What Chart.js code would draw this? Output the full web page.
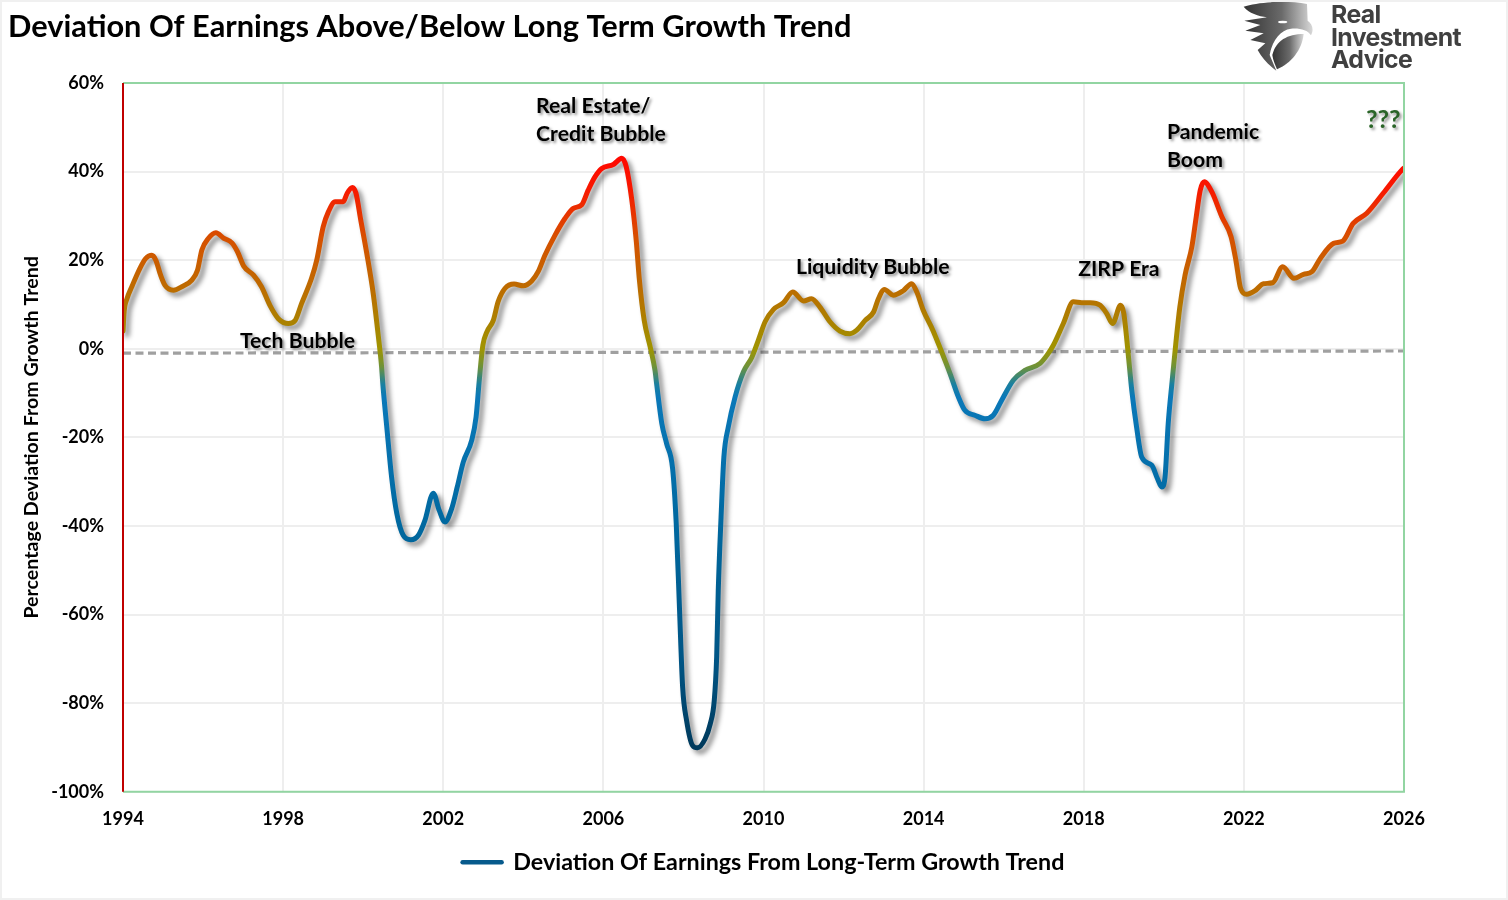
<!DOCTYPE html>
<html><head><meta charset="utf-8">
<script src="https://cdn.jsdelivr.net/npm/chart.js@4"></script>
<style>
html,body{margin:0;padding:0;background:#fff;width:1508px;height:900px;overflow:hidden}
#frame{position:absolute;left:0;top:0;width:1504px;height:896px;border:2px solid #f0f0f0;pointer-events:none}
#c{position:absolute;left:0;top:0}
#logo{position:absolute;left:1243px;top:0}
#logotext{position:absolute;left:1331px;top:3px;font:700 24.8px/22.5px Inter,sans-serif;color:#404040;letter-spacing:-.6px}
</style></head><body>
<canvas id="c" width="1508" height="900"></canvas>
<svg id="logo" width="72" height="73" viewBox="128 0 216 219">
<defs><linearGradient id="g" x1="0" x2="1" y1="0" y2="0"><stop offset="0" stop-color="#333"/><stop offset=".55" stop-color="#6a6a6a"/><stop offset="1" stop-color="#d8d8d8"/></linearGradient></defs>
<path fill="url(#g)" d="M130 20C170 6 260 0 320 12L322 62C335 72 342 86 332 106C322 90 300 84 272 86C240 90 215 122 208 165L228 212C205 195 185 175 172 150L195 130L150 120L190 100L135 92L180 75L132 62L200 52C175 48 145 40 130 20Z"/>
<path fill="url(#g)" d="M216 165C226 122 262 102 310 102C305 150 272 190 230 208C224 194 218 180 216 165Z"/>
<ellipse cx="247" cy="66" rx="14" ry="4" fill="#fff"/>
</svg>
<div id="logotext">Real<br>Investment<br>Advice</div>
<div id="frame"></div>
<script>
const chartTitle = "Deviation Of Earnings Above/Below Long Term Growth Trend";
const yAxisTitle = "Percentage Deviation From Growth Trend";
const seriesName = "Deviation Of Earnings From Long-Term Growth Trend";
const years = [1994.0,1994.03,1994.1,1994.22,1994.42,1994.57,1994.72,1994.82,1994.94,1995.05,1995.26,1995.47,1995.72,1995.86,1995.97,1996.13,1996.32,1996.51,1996.72,1996.86,1997.02,1997.26,1997.46,1997.67,1997.88,1998.13,1998.30,1998.46,1998.71,1998.84,1999.0,1999.13,1999.30,1999.50,1999.60,1999.73,1999.82,1999.94,2000.09,2000.25,2000.38,2000.46,2000.49,2000.59,2000.71,2000.84,2001.0,2001.19,2001.38,2001.54,2001.75,2001.90,2002.04,2002.21,2002.35,2002.50,2002.71,2002.82,2002.90,2002.99,2003.09,2003.25,2003.37,2003.54,2003.77,2004.0,2004.21,2004.37,2004.54,2004.79,2005.04,2005.25,2005.46,2005.62,2005.79,2005.96,2006.25,2006.46,2006.57,2006.71,2006.82,2006.90,2007.02,2007.17,2007.29,2007.33,2007.46,2007.58,2007.73,2007.82,2007.90,2007.98,2008.08,2008.23,2008.35,2008.54,2008.67,2008.77,2008.83,2008.87,2008.94,2009.01,2009.12,2009.29,2009.50,2009.71,2009.87,2010.04,2010.25,2010.50,2010.73,2011.0,2011.20,2011.41,2011.66,2011.91,2012.16,2012.33,2012.54,2012.75,2012.87,2013.02,2013.24,2013.49,2013.70,2013.83,2013.99,2014.23,2014.45,2014.66,2014.87,2015.03,2015.28,2015.53,2015.74,2015.95,2016.24,2016.53,2016.91,2017.11,2017.24,2017.49,2017.74,2017.95,2018.16,2018.41,2018.57,2018.72,2018.92,2019.0,2019.11,2019.20,2019.32,2019.45,2019.70,2019.84,2019.95,2020.03,2020.11,2020.21,2020.30,2020.40,2020.53,2020.70,2020.81,2020.91,2021.01,2021.20,2021.45,2021.68,2021.80,2021.92,2022.07,2022.28,2022.49,2022.72,2022.97,2023.25,2023.49,2023.70,2023.91,2024.24,2024.47,2024.73,2025.07,2025.48,2025.96,2026.0];
const deviation = [4,8.5,11.3,14.0,18.1,20.4,21.1,20.0,16.6,14.3,13.2,14.0,15.5,17.7,22.3,24.9,26.2,25.0,23.9,21.9,18.6,16.6,14.0,9.8,6.8,5.7,6.4,10.2,15.9,20.0,27.5,30.9,33.2,33.2,35.1,36.4,35.1,29.0,21.5,12.5,2.7,-4.1,-7.9,-17.7,-29.0,-37.2,-42.1,-43.1,-42.1,-38.8,-32.6,-36.5,-39.1,-36.1,-31.2,-25.6,-20.7,-15.4,-7.1,0.8,3.8,6.4,10.6,13.6,14.6,14.2,15.3,17.4,21.1,25.6,29.4,31.7,32.5,35.8,38.8,40.7,41.6,43.0,41.1,33.6,24.5,15.5,6.4,0.4,-4.9,-7.9,-16.9,-21.4,-27.1,-39.5,-58.3,-76.4,-84.0,-89.6,-90.1,-88.1,-84.7,-79.4,-69.6,-54.6,-38.0,-24.5,-17.7,-10.9,-5.2,-1.9,1.9,6.1,8.9,10.4,12.8,10.8,11.3,9.4,6.1,4.0,3.4,4.2,6.4,8.3,11.3,13.4,12.1,13.1,14.7,12.8,8.7,4.2,-0.7,-5.6,-10.9,-13.9,-15.0,-15.8,-15.0,-11.6,-7.1,-4.9,-3.3,-1.1,0.8,5.7,10.6,10.4,10.4,9.8,8.0,5.7,9.8,8.0,-1.1,-9.4,-17.7,-24.5,-26.3,-29.3,-31.2,-29.0,-16.9,-7.1,1.2,9.4,16.6,23.0,29.8,35.8,37.7,35.4,29.8,25.3,20.0,13.6,12.3,13.1,14.7,14.9,18.5,15.9,16.8,17.4,20.4,23.8,24.3,28.3,30.6,35.1,40.5,40.8];
const zeroYears = [1994, 2026];
const zeroLine = [-1, -0.5];
const noteText = ["Tech Bubble","Real Estate/","Credit Bubble","Liquidity Bubble","ZIRP Era","Pandemic","Boom","???"];
const noteYear = [1996.92,2004.32,2004.32,2010.81,2017.86,2020.08,2020.08,2025.05];
const notePct = [1.7,54.8,48.5,18.4,18.0,48.9,42.6,51.6];
const FONT = "Lato, Carlito, sans-serif";

function lineGradient(chart){
  const {ctx, chartArea, scales} = chart;
  if(!chartArea) return '#c05000';
  const y = scales.y, top = y.getPixelForValue(43), bot = y.getPixelForValue(-90);
  const g = ctx.createLinearGradient(0, top, 0, bot);
  const stops = [[43,'#ff0800'],[36,'#f81800'],[25,'#d65000'],[15,'#c06800'],[5,'#a88400'],[0,'#a09400'],[-4,'#6f9238'],[-8,'#1a80a0'],[-11,'#0a78b8'],[-40,'#00689f'],[-70,'#005585'],[-90,'#003a5c']];
  stops.forEach(([v,c])=>g.addColorStop((43-v)/133, c));
  return g;
}
const frameAndNotes = {
  id:'frameAndNotes',
  beforeDatasetDraw(chart,args){
    const c = chart.ctx; c.save();
    if(args.index===0){c.shadowColor='rgba(0,0,0,.45)';c.shadowBlur=5;c.shadowOffsetX=4;c.shadowOffsetY=4;}
  },
  afterDatasetDraw(chart){ chart.ctx.restore(); },
  afterDraw(chart){
    const {ctx:c, chartArea:a, scales:s} = chart;
    c.save();
    c.strokeStyle='#92d5a2'; c.lineWidth=2;
    c.beginPath(); c.moveTo(a.left,a.top); c.lineTo(a.right,a.top); c.lineTo(a.right,a.bottom); c.lineTo(a.left,a.bottom); c.stroke();
    c.strokeStyle='#c00000'; c.beginPath(); c.moveTo(a.left,a.top); c.lineTo(a.left,a.bottom); c.stroke();
    c.textBaseline='middle'; c.textAlign='left';
    noteText.forEach((t,i)=>{
      c.font = t==='???' ? '700 25px '+FONT : '700 21.2px '+FONT;
      c.shadowColor='rgba(0,0,0,.45)';c.shadowBlur=3;c.shadowOffsetX=2;c.shadowOffsetY=2;
      c.fillStyle = t==='???' ? '#2a6428' : '#000';
      c.fillText(t, s.x.getPixelForValue(noteYear[i]), s.y.getPixelForValue(notePct[i]));
    });
    c.restore();
  }
};
new Chart(document.getElementById('c'),{
  type:'line',
  data:{datasets:[
    {label:seriesName,data:years.map((x,i)=>({x,y:deviation[i]})),borderColor:ctx=>lineGradient(ctx.chart),borderWidth:5,pointRadius:0,cubicInterpolationMode:'monotone',borderCapStyle:'round',borderJoinStyle:'round'},
    {label:'Zero',data:zeroYears.map((x,i)=>({x,y:zeroLine[i]})),borderColor:'#a0a0a0',borderWidth:3.2,borderDash:[8,4.5],pointRadius:0}
  ]},
  plugins:[frameAndNotes],
  options:{
    responsive:false,animation:false,
    layout:{padding:{left:8,right:104,top:0,bottom:16}},
    plugins:{
      title:{display:true,text:chartTitle,align:'start',color:'#000',font:{family:FONT,size:30.75,weight:'700',lineHeight:1.2},padding:{top:8.5,bottom:37.6}},
      tooltip:{enabled:false},
      legend:{position:'bottom',fullSize:false,labels:{
        font:{family:FONT,size:23.3,weight:'700'},color:'#000',usePointStyle:true,pointStyle:'line',pointStyleWidth:39,boxHeight:24,padding:20,
        generateLabels(){return [{text:seriesName,strokeStyle:'#075a8c',fillStyle:'#075a8c',lineWidth:4.5,pointStyle:'line',lineCap:'round',datasetIndex:0}];}
      }}
    },
    scales:{
      x:{type:'linear',min:1994,max:2026,afterFit(s){s.height=39;},
        ticks:{stepSize:4,maxRotation:0,padding:17,color:'#000',font:{family:FONT,size:18,weight:'700'},callback:v=>String(v)},
        grid:{color:'#eeeeee',lineWidth:2,drawTicks:false},border:{display:false}},
      y:{min:-100,max:60,afterFit(s){s.width=115;},
        title:{display:true,text:yAxisTitle,color:'#000',font:{family:FONT,size:19.6,weight:'700'},padding:{top:12,bottom:0}},
        ticks:{stepSize:20,padding:19,color:'#000',font:{family:FONT,size:18,weight:'700'},callback:v=>v+'%'},
        grid:{color:'#eeeeee',lineWidth:2,drawTicks:false},border:{display:false}}
    }
  }
});
</script></body></html>
